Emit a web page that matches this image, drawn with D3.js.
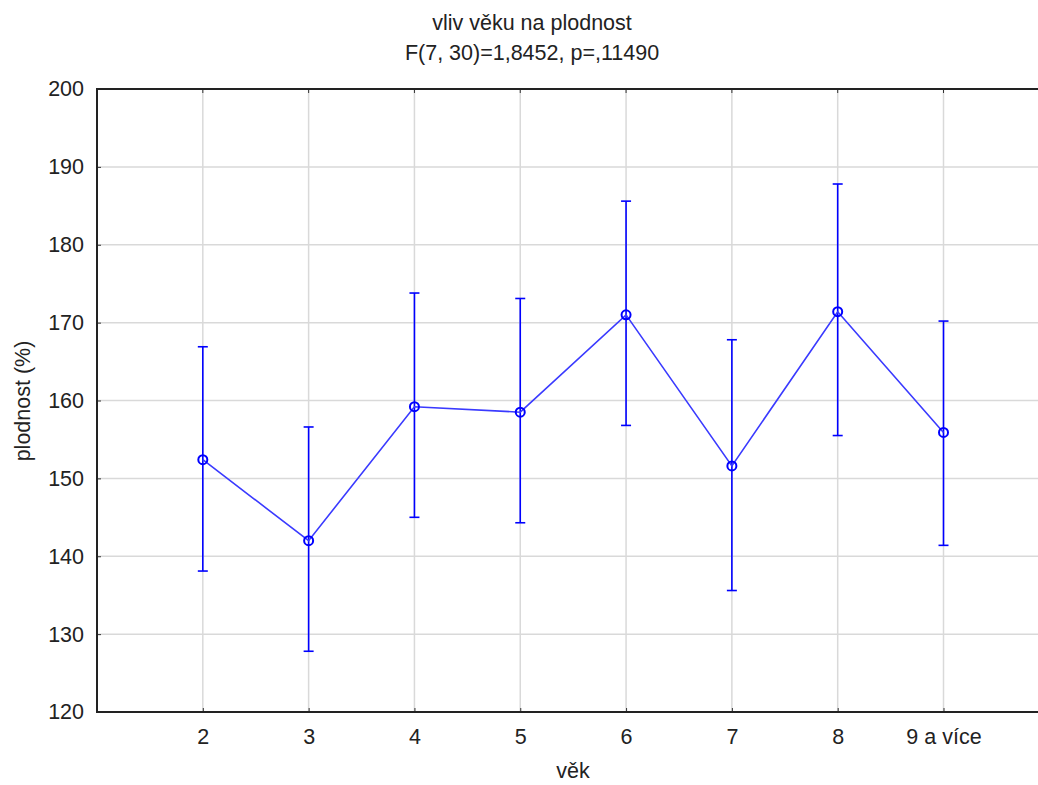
<!DOCTYPE html>
<html>
<head>
<meta charset="utf-8">
<script src="https://cdn.jsdelivr.net/npm/d3@7"></script>
<style>
  html, body { margin: 0; padding: 0; background: #fff; overflow: hidden; }
  svg { display: block; font-family: "Liberation Sans", Arial, sans-serif; }
</style>
</head>
<body>
<div id="chart"></div>
<script>
// data
var categories = ['2', '3', '4', '5', '6', '7', '8', '9 a více'];
var means = [152.4, 142.0, 159.2, 158.5, 171.0, 151.6, 171.4, 155.9];
var upper = [166.9, 156.6, 173.8, 173.1, 185.6, 167.8, 187.8, 170.2];
var lower = [138.1, 127.8, 145.0, 144.3, 156.8, 135.6, 155.5, 141.4];
var yTicks = [120, 130, 140, 150, 160, 170, 180, 190, 200];

var width = 1038, height = 785;
var margin = {top: 89, right: 0, bottom: 73, left: 97};
var fontSize = 21.5;

var svg = d3.select('#chart').append('svg')
    .attr('width', width).attr('height', height);

// x: one empty slot before the first category, categories spaced evenly
var x = d3.scaleLinear().domain([-1, 7]).range([margin.left, 943.5]);
var y = d3.scaleLinear().domain([120, 200]).range([height - margin.bottom, margin.top]);

var plotRight = width;

// grid
var grid = svg.append('g');
grid.selectAll('.hg').data(yTicks.slice(1, -1)).enter().append('line')
    .attr('x1', margin.left).attr('x2', plotRight)
    .attr('y1', function(d) { return y(d); }).attr('y2', function(d) { return y(d); })
    .attr('stroke', '#d9d9d9').attr('stroke-width', 1.5);
grid.selectAll('.vg').data(categories).enter().append('line')
    .attr('x1', function(d, i) { return x(i); }).attr('x2', function(d, i) { return x(i); })
    .attr('y1', y(200)).attr('y2', y(120))
    .attr('stroke', '#d9d9d9').attr('stroke-width', 1.5);

// axes
var yAxis = d3.axisLeft(y).tickValues(yTicks).tickSize(-4).tickPadding(13);
var gy = svg.append('g').attr('transform', 'translate(' + margin.left + ',0)').call(yAxis);
gy.select('.domain').remove();
gy.selectAll('.tick line').attr('stroke', '#333');
gy.selectAll('text').attr('font-size', fontSize).attr('fill', '#222')
    .attr('font-family', '"Liberation Sans", Arial, sans-serif');

var xAxis = d3.axisBottom(x).tickValues(d3.range(categories.length))
    .tickFormat(function(d) { return categories[d]; }).tickSize(-4).tickPadding(17);
var gx = svg.append('g').attr('transform', 'translate(0,' + y(120) + ')').call(xAxis);
gx.select('.domain').remove();
gx.selectAll('.tick line').attr('stroke', '#333');
gx.selectAll('text').attr('font-size', fontSize).attr('fill', '#222')
    .attr('font-family', '"Liberation Sans", Arial, sans-serif');

// top ticks
svg.append('g').selectAll('line').data(categories).enter().append('line')
    .attr('x1', function(d, i) { return x(i); }).attr('x2', function(d, i) { return x(i); })
    .attr('y1', y(200)).attr('y2', y(200) + 4)
    .attr('stroke', '#333');

// frame (left, top, bottom) - no right edge
svg.append('path')
    .attr('d', 'M' + plotRight + ',' + y(200) + 'H' + margin.left + 'V' + y(120) + 'H' + plotRight)
    .attr('fill', 'none').attr('stroke', '#222').attr('stroke-width', 2);

// error bars
var eb = svg.append('g').attr('stroke', '#0000ff').attr('stroke-width', 1.6);
eb.selectAll('.v').data(means).enter().append('line')
    .attr('x1', function(d, i) { return x(i); }).attr('x2', function(d, i) { return x(i); })
    .attr('y1', function(d, i) { return y(upper[i]); }).attr('y2', function(d, i) { return y(lower[i]); });
eb.selectAll('.u').data(upper).enter().append('line')
    .attr('x1', function(d, i) { return x(i) - 5; }).attr('x2', function(d, i) { return x(i) + 5; })
    .attr('y1', function(d) { return y(d); }).attr('y2', function(d) { return y(d); });
eb.selectAll('.l').data(lower).enter().append('line')
    .attr('x1', function(d, i) { return x(i) - 5; }).attr('x2', function(d, i) { return x(i) + 5; })
    .attr('y1', function(d) { return y(d); }).attr('y2', function(d) { return y(d); });

// mean line
var line = d3.line().x(function(d, i) { return x(i); }).y(function(d) { return y(d); });
svg.append('path').datum(means)
    .attr('d', line).attr('fill', 'none')
    .attr('stroke', '#3a3aff').attr('stroke-width', 1.6);

// markers
svg.append('g').selectAll('circle').data(means).enter().append('circle')
    .attr('cx', function(d, i) { return x(i); }).attr('cy', function(d) { return y(d); })
    .attr('r', 4.5).attr('fill', 'none').attr('stroke', '#0000ff').attr('stroke-width', 2);

// titles
svg.append('text').attr('x', 532).attr('y', 30).attr('text-anchor', 'middle')
    .attr('font-size', fontSize).attr('fill', '#222').text('vliv věku na plodnost');
svg.append('text').attr('x', 532).attr('y', 60).attr('text-anchor', 'middle')
    .attr('font-size', fontSize).attr('fill', '#222').text('F(7, 30)=1,8452, p=,11490');

svg.append('text').attr('x', 573).attr('y', 778).attr('text-anchor', 'middle')
    .attr('font-size', fontSize).attr('fill', '#222').text('věk');
svg.append('text')
    .attr('transform', 'translate(30,401) rotate(-90)')
    .attr('text-anchor', 'middle')
    .attr('font-size', fontSize).attr('fill', '#222').text('plodnost (%)');
</script>
</body>
</html>
